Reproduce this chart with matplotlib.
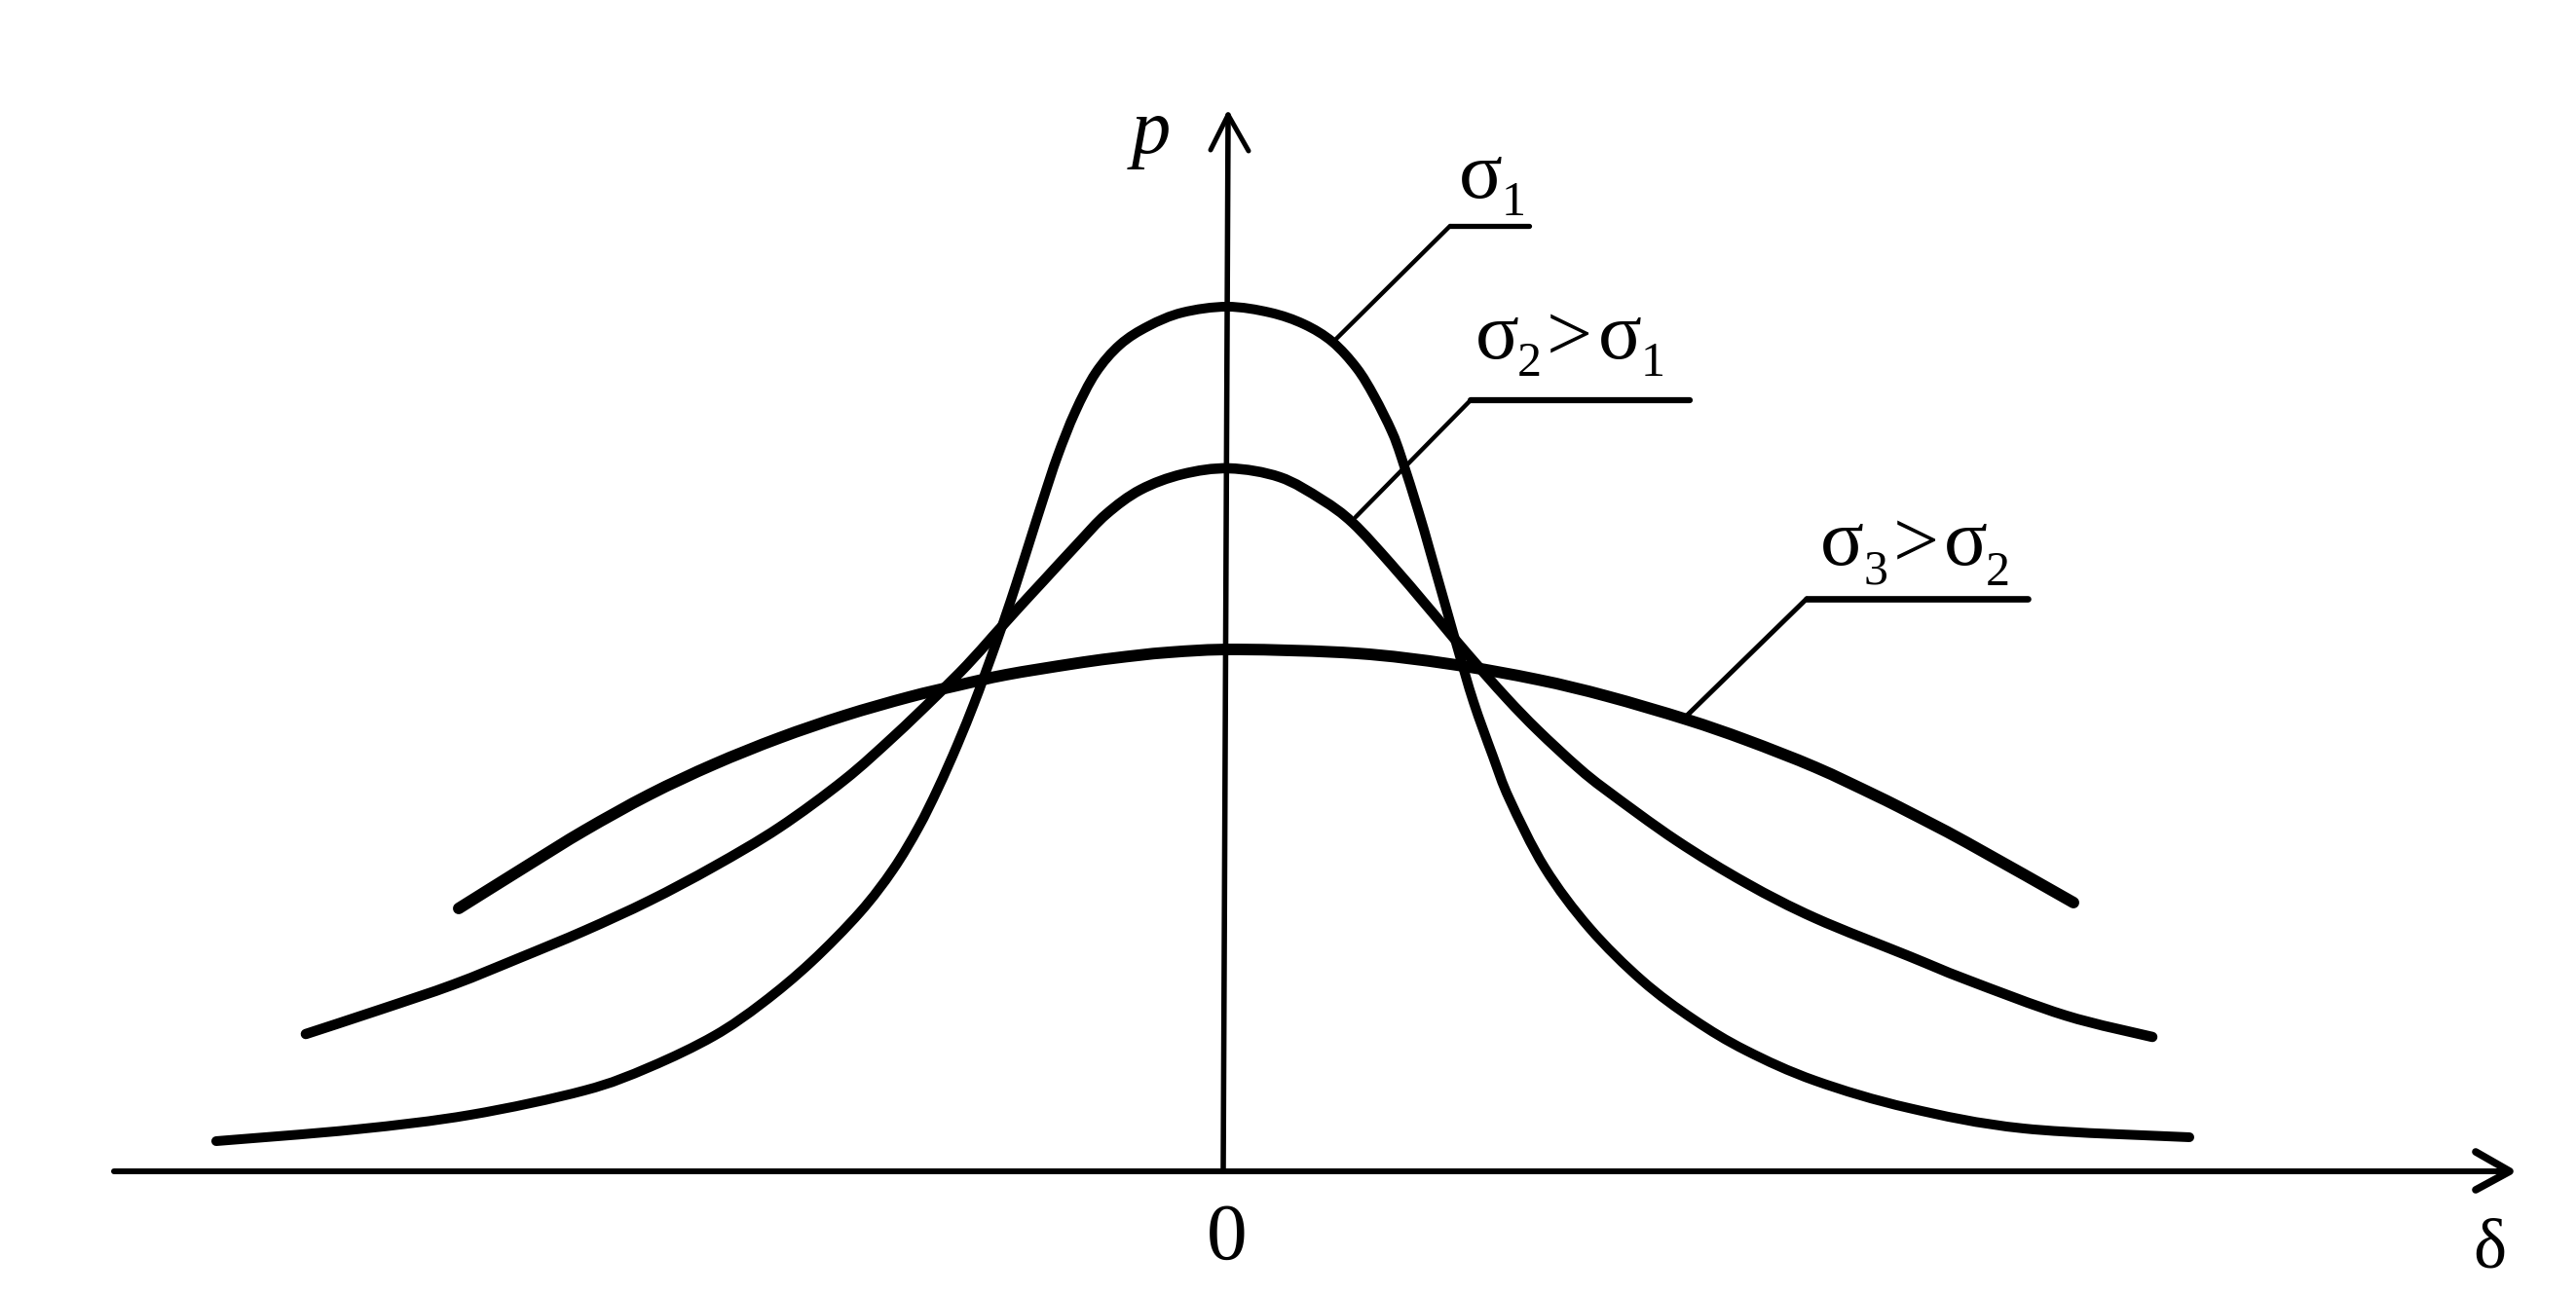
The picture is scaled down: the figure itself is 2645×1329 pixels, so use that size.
import matplotlib
matplotlib.use("Agg")
import matplotlib.pyplot as plt
import numpy as np
from matplotlib.path import Path
from matplotlib.patches import PathPatch

# ---- data (delta, p) ----
d1 = [-10.36, -8.93, -7.75, -6.58, -5.91, -5.25, -4.75, -4.25, -3.75, -3.41, -3.15, -2.95, -2.75,
      -2.58, -2.48, -2.35, -2.25, -2.15, -2.01, -1.87, -1.72, -1.54, -1.33, -1.08, -0.79, -0.44,
      0.02, 0.46, 0.81, 1.10, 1.35, 1.53, 1.71, 1.81, 1.99, 2.10, 2.29, 2.39, 2.55, 2.75, 2.92,
      3.28, 3.74, 4.28, 4.81, 5.35, 6.06, 7.02, 8.20, 9.90]
p1 = [0.31, 0.43, 0.58, 0.83, 1.07, 1.39, 1.73, 2.15, 2.66, 3.10, 3.53, 3.93, 4.38,
      4.80, 5.07, 5.43, 5.72, 6.02, 6.46, 6.90, 7.35, 7.80, 8.20, 8.49, 8.68, 8.82,
      8.88, 8.82, 8.70, 8.52, 8.25, 7.96, 7.60, 7.33, 6.76, 6.38, 5.71, 5.36, 4.82, 4.26, 3.82,
      3.12, 2.50, 1.96, 1.56, 1.24, 0.93, 0.65, 0.44, 0.35]

d2 = [-9.44, -8.68, -7.92, -7.25, -6.58, -5.91, -5.25, -4.58, -3.91, -3.41, -2.98, -2.65, -2.38,
      -2.11, -1.87, -1.51, -1.22, -0.87, -0.44, 0.04, 0.56, 0.99, 1.31, 1.70, 2.06, 2.22, 2.49,
      2.89, 3.21, 3.62, 3.92, 4.63, 5.35, 6.06, 7.02, 7.61, 8.63, 9.52]
p2 = [1.41, 1.66, 1.92, 2.19, 2.47, 2.78, 3.13, 3.53, 4.02, 4.46, 4.87, 5.20, 5.50,
      5.80, 6.06, 6.45, 6.75, 7.00, 7.16, 7.22, 7.13, 6.90, 6.66, 6.24, 5.82, 5.63, 5.31,
      4.86, 4.53, 4.15, 3.91, 3.40, 2.96, 2.60, 2.21, 1.97, 1.60, 1.38]

d3 = [-7.87, -7.15, -6.58, -5.91, -5.25, -4.58, -3.91, -3.25, -2.75, -2.25, -1.58, -1.15, -0.58,
      0.13, 1.35, 2.31, 3.21, 3.92, 4.74, 5.35, 6.06, 6.68, 7.02, 7.61, 8.71]
p3 = [2.70, 3.15, 3.50, 3.87, 4.18, 4.45, 4.68, 4.87, 4.99, 5.10, 5.21, 5.27, 5.33,
      5.36, 5.32, 5.21, 5.05, 4.88, 4.64, 4.43, 4.15, 3.86, 3.69, 3.38, 2.76]

labels = ["σ", "1", "2", "3", ">"]
axis_x_label = "δ"
axis_y_label = "p"
origin_label = "0"


def smooth_path(xs, ys):
    """Smooth cubic Bezier path passing through the given points."""
    pts = np.column_stack([xs, ys]).astype(float)
    ext = np.vstack([pts[0], pts, pts[-1]])
    verts = [pts[0]]
    codes = [Path.MOVETO]
    for i in range(1, len(ext) - 2):
        p0, p1_, p2_, p3_ = ext[i - 1], ext[i], ext[i + 1], ext[i + 2]
        c1 = p1_ + (p2_ - p0) / 6.0
        c2 = p2_ - (p3_ - p1_) / 6.0
        verts += [c1, c2, p2_]
        codes += [Path.CURVE4] * 3
    return Path(verts, codes)


# ---- figure ----
fig = plt.figure(figsize=(26.45, 13.29), dpi=100)
ax = fig.add_axes([0, 0, 1, 1])
ax.set_xlim(-12.58, 13.87)
ax.set_ylim(-1.26, 12.03)
ax.axis("off")

kw = dict(color="black", solid_capstyle="round", solid_joinstyle="round")

# axes
ax.plot([-11.41, 13.19], [0, 0], lw=4.3, **kw)
ax.plot([-0.02, 0.03], [0, 10.85], lw=4.0, **kw)
# arrow heads
ax.plot([12.84, 13.19, 12.84], [0.20, 0.0, -0.19], lw=5.5, **kw)
ax.plot([-0.15, 0.03, 0.24], [10.49, 10.85, 10.48], lw=3.6, **kw)

# curves
for xs, ys, lw in [(d1, p1, 7.2), (d2, p2, 7.6), (d3, p3, 8.6)]:
    ax.add_patch(PathPatch(smooth_path(xs, ys), fill=False, edgecolor="black", lw=lw,
                           capstyle="round", joinstyle="round"))

# leader lines
ax.plot([1.12, 2.31], [8.53, 9.71], lw=3.2, **kw)
ax.plot([2.31, 3.12], [9.71, 9.71], lw=3.8, **kw)
ax.plot([1.34, 2.52], [6.72, 7.92], lw=3.2, **kw)
ax.plot([2.52, 4.77], [7.92, 7.92], lw=4.5, **kw)
ax.plot([4.74, 5.97], [4.68, 5.88], lw=3.6, **kw)
ax.plot([5.97, 8.24], [5.88, 5.88], lw=4.8, **kw)

font = "Liberation Serif"
big = 60
sub = 36
tkw = dict(family=font, color="black", ha="left", va="baseline")

# sigma_1
ax.text(2.40, 10.00, labels[0], fontsize=big, **tkw)
ax.text(2.84, 9.82, labels[1], fontsize=sub, **tkw)
# sigma_2 > sigma_1
ax.text(2.57, 8.35, labels[0], fontsize=big, **tkw)
ax.text(3.00, 8.17, labels[2], fontsize=sub, **tkw)
ax.text(3.30, 8.33, labels[4], fontsize=big, **tkw)
ax.text(3.83, 8.35, labels[0], fontsize=big, **tkw)
ax.text(4.27, 8.17, labels[1], fontsize=sub, **tkw)
# sigma_3 > sigma_2
ax.text(6.11, 6.23, labels[0], fontsize=big, **tkw)
ax.text(6.55, 6.04, labels[3], fontsize=sub, **tkw)
ax.text(6.86, 6.21, labels[4], fontsize=big, **tkw)
ax.text(7.38, 6.23, labels[0], fontsize=big, **tkw)
ax.text(7.81, 6.02, labels[2], fontsize=sub, **tkw)

# axis labels
ax.text(0.02, -0.90, origin_label, fontsize=60, family=font, ha="center", va="baseline")
ax.text(12.98, -0.99, axis_x_label, fontsize=52, family=font, ha="center", va="baseline")
ax.text(-0.76, 10.46, axis_y_label, fontsize=58, family=font, style="italic",
        ha="center", va="baseline")

fig.savefig("out.png", dpi=100)
